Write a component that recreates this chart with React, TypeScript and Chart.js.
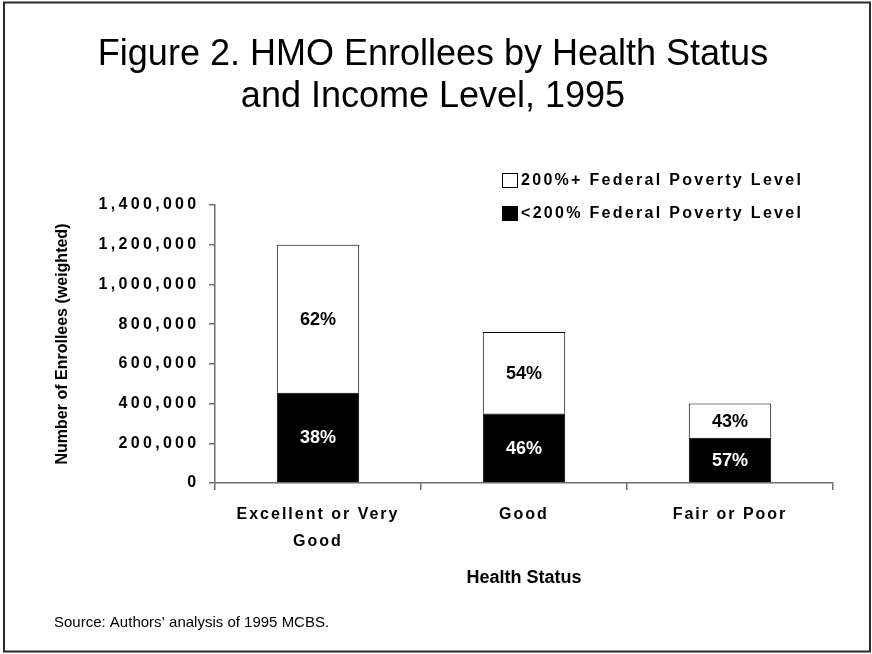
import React, { useEffect, useRef } from 'react';
import { Chart, registerables } from 'chart.js';

Chart.register(...registerables);

// ---- data ----
const categories: (string | string[])[] = [['Excellent or Very', 'Good'], 'Good', 'Fair or Poor'];
const lowIncomeLabel = '<200% Federal Poverty Level';
const highIncomeLabel = '200%+ Federal Poverty Level';
const lowIncome = [455000, 350000, 228000];
const highIncome = [745000, 410000, 172000];
const yMin = 0;
const yMax = 1400000;
const yStep = 200000;
const titleLines = ['Figure 2. HMO Enrollees by Health Status', 'and Income Level, 1995'];
const yAxisTitle = 'Number of Enrollees (weighted)';
const xAxisTitle = 'Health Status';
const sourceNote = 'Source: Authors\u2019 analysis of 1995 MCBS.';

const FONT = '"Liberation Sans", Arial, Helvetica, sans-serif';
const AXIS_GRAY = '#6e6e6e';

export default function App() {
  const canvasRef = useRef<HTMLCanvasElement | null>(null);

  useEffect(() => {
    const canvas = canvasRef.current;
    if (!canvas) return;

    const decorPlugin = {
      id: 'decor',
      beforeDraw(chart: any) {
        const ctx = chart.ctx;
        const spacing: [string, string][] = [['x', '2px'], ['y', '3.3px']];
        spacing.forEach(([id, ls]) => {
          const s: any = chart.scales[id];
          if (s && !s.__wrapped) {
            const orig = s.drawLabels.bind(s);
            s.drawLabels = (area: any) => {
              ctx.save();
              (ctx as any).letterSpacing = ls;
              orig(area);
              ctx.restore();
            };
            s.__wrapped = true;
          }
        });
      },
      afterDatasetsDraw(chart: any) {
        const ctx = chart.ctx;
        ctx.save();
        ctx.font = `bold 18px ${FONT}`;
        ctx.textAlign = 'center';
        ctx.textBaseline = 'middle';
        const datasets = chart.data.datasets;
        datasets.forEach((ds: any, di: number) => {
          const meta = chart.getDatasetMeta(di);
          meta.data.forEach((el: any, i: number) => {
            const total = datasets.reduce((s: number, d: any) => s + (d.data[i] as number), 0);
            const pct = Math.round(((ds.data[i] as number) / total) * 100) + '%';
            ctx.fillStyle = ds.valueLabelColor;
            ctx.fillText(pct, el.x, (el.y + el.base) / 2 + 1);
          });
        });
        ctx.restore();
      },
      afterDraw(chart: any) {
        const ctx = chart.ctx;
        ctx.save();
        // legend (top item = top segment)
        const items = [...chart.data.datasets].reverse();
        items.forEach((ds: any, k: number) => {
          const bx = 502;
          const by = 173 + k * 33;
          ctx.fillStyle = ds.backgroundColor;
          ctx.fillRect(bx, by, 16, 15);
          ctx.strokeStyle = '#000';
          ctx.lineWidth = 1;
          ctx.strokeRect(bx + 0.5, by + 0.5, 15, 14);
          ctx.fillStyle = '#000';
          ctx.font = `bold 16px ${FONT}`;
          (ctx as any).letterSpacing = '2.3px';
          ctx.textAlign = 'left';
          ctx.textBaseline = 'middle';
          ctx.fillText(ds.label, 521, by + 8);
        });
        (ctx as any).letterSpacing = '0px';
        // title
        ctx.fillStyle = '#000';
        ctx.font = `36px ${FONT}`;
        ctx.textAlign = 'center';
        ctx.textBaseline = 'alphabetic';
        titleLines.forEach((t, i) => ctx.fillText(t, 433, 65 + i * 42));
        // source
        ctx.font = `15px ${FONT}`;
        ctx.textAlign = 'left';
        ctx.fillText(sourceNote, 54, 627);
        // frame
        ctx.strokeStyle = '#2a2a2a';
        ctx.lineWidth = 2;
        ctx.strokeRect(4, 2.5, 866, 649);
        ctx.restore();
      },
    };

    const chart = new Chart(canvas, {
      type: 'bar',
      data: {
        labels: categories,
        datasets: [
          {
            label: lowIncomeLabel,
            data: lowIncome,
            backgroundColor: '#000000',
            borderColor: '#000000',
            borderWidth: 1,
            barPercentage: 0.4,
            categoryPercentage: 1.0,
            valueLabelColor: '#ffffff',
          } as any,
          {
            label: highIncomeLabel,
            data: highIncome,
            backgroundColor: '#ffffff',
            borderColor: '#000000',
            borderWidth: 1,
            barPercentage: 0.4,
            categoryPercentage: 1.0,
            valueLabelColor: '#000000',
          } as any,
        ],
      },
      options: {
        responsive: false,
        animation: false,
        devicePixelRatio: 1,
        layout: { padding: { top: 205, right: 39, bottom: 0, left: 0 } },
        plugins: {
          legend: { display: false },
          title: { display: false },
          tooltip: { enabled: false },
        },
        scales: {
          x: {
            stacked: true,
            grid: {
              display: true,
              drawOnChartArea: false,
              drawTicks: true,
              tickLength: 7,
              color: AXIS_GRAY,
              lineWidth: 1.5,
            },
            border: { display: true, color: AXIS_GRAY, width: 1.5 },
            ticks: {
              color: '#000',
              padding: 11.5,
              maxRotation: 0,
              autoSkip: false,
              font: { family: FONT, size: 16, weight: 'bold', lineHeight: 1.6875 },
            },
            title: {
              display: true,
              text: xAxisTitle,
              color: '#000',
              font: { family: FONT, size: 18, weight: 'bold', lineHeight: 1.2 },
              padding: { top: 0, bottom: 65 },
            },
            afterFit: (scale: any) => {
              scale.height = 171;
            },
          },
          y: {
            stacked: true,
            min: yMin,
            max: yMax,
            grid: {
              display: true,
              drawOnChartArea: false,
              drawTicks: true,
              tickLength: 6,
              color: AXIS_GRAY,
              lineWidth: 1.5,
            },
            border: { display: true, color: AXIS_GRAY, width: 1.5 },
            ticks: {
              stepSize: yStep,
              color: '#000',
              padding: 9.5,
              font: { family: FONT, size: 16, weight: 'bold' },
              callback: (v: any) => Number(v).toLocaleString('en-US'),
            },
            title: {
              display: true,
              text: yAxisTitle,
              color: '#000',
              font: { family: FONT, size: 16, weight: 'bold', lineHeight: 1.2 },
              padding: { top: 53.4, bottom: 0 },
            },
            afterFit: (scale: any) => {
              scale.width = 215;
            },
          },
        },
      } as any,
      plugins: [decorPlugin],
    });

    return () => {
      chart.destroy();
    };
  }, []);

  return (
    <div style={{ position: 'absolute', left: 0, top: 0, width: 872, height: 654, background: '#fff' }}>
      <canvas ref={canvasRef} width={872} height={654} style={{ display: 'block', width: 872, height: 654 }} />
    </div>
  );
}
